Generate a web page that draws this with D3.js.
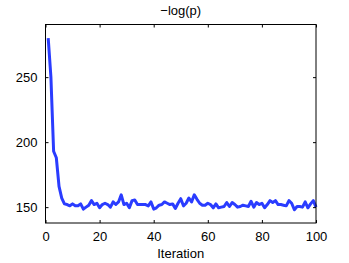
<!DOCTYPE html>
<html>
<head>
<meta charset="utf-8">
<style>
  body { margin: 0; background: #fff; }
  svg { display: block; font-family: "Liberation Sans", Arial, sans-serif; }
  .tick text { font-size: 13px; fill: #000; }
</style>
<script src="https://d3js.org/d3.v7.min.js"></script>
</head>
<body>
<script>
// values, one per iteration
var iterations = d3.range(1, 101);
var negLogP = [
  280, 250, 193, 188, 166, 157, 152.5, 152, 151, 152.5,
  151, 151, 152.5, 148.5, 150, 151.5, 155, 152, 153, 149.5,
  152, 153, 152, 150, 154, 152, 154, 159.5, 152, 153,
  149.5, 155, 155.5, 152, 152, 152, 152, 151, 154, 148.5,
  149.5, 151.5, 152, 154, 153, 152, 152.5, 149, 153, 156.5,
  151, 153, 157, 154, 159.5, 156, 153, 151.5, 151.5, 153,
  152, 149.5, 152.5, 149.5, 150, 150.5, 153.5, 150.5, 153.5, 152,
  150, 150.5, 151.5, 151, 150.5, 154.5, 150, 153.5, 152, 153,
  149.5, 152, 155, 153.5, 155, 152, 152, 151.5, 151, 155,
  153, 148, 150.5, 150.5, 150, 154, 149.5, 152.5, 155, 150
];
var xTicks = [0, 20, 40, 60, 80, 100];
var yTicks = [150, 200, 250];
var titleText = "\u2212log(p)";
var xLabelText = "Iteration";

var W = 349, H = 263;
var m = { left: 45.5, right: 33, top: 24.5, bottom: 40 };

var svg = d3.select("body").append("svg")
    .attr("width", W)
    .attr("height", H);

var x = d3.scaleLinear().domain([0, 100]).range([m.left, W - m.right]);
var y = d3.scaleLinear().domain([137.8, 290.5]).range([H - m.bottom, m.top]);

// line
var line = d3.line()
    .x((d, i) => x(iterations[i]))
    .y(d => y(d));

svg.append("path")
    .datum(negLogP)
    .attr("d", line)
    .attr("fill", "none")
    .attr("stroke", "#2a3cff")
    .attr("stroke-width", 3)
    .attr("stroke-linejoin", "round");

// axes, ticks point inward like matlab
var tl = 3;
svg.append("g")
    .attr("transform", "translate(0," + (H - m.bottom) + ")")
    .call(d3.axisBottom(x).tickValues(xTicks).tickSizeInner(-tl).tickSizeOuter(0).tickPadding(9))
    .call(g => g.select(".domain").remove());
svg.append("g")
    .attr("transform", "translate(0," + m.top + ")")
    .call(d3.axisTop(x).tickValues(xTicks).tickSizeInner(-tl).tickSizeOuter(0).tickFormat(""))
    .call(g => g.select(".domain").remove());
svg.append("g")
    .attr("transform", "translate(" + m.left + ",0)")
    .call(d3.axisLeft(y).tickValues(yTicks).tickSizeInner(-tl).tickSizeOuter(0).tickPadding(8))
    .call(g => g.select(".domain").remove());
svg.append("g")
    .attr("transform", "translate(" + (W - m.right) + ",0)")
    .call(d3.axisRight(y).tickValues(yTicks).tickSizeInner(-tl).tickSizeOuter(0).tickFormat(""))
    .call(g => g.select(".domain").remove());

svg.selectAll(".tick line").attr("stroke", "#000");

// box
svg.append("rect")
    .attr("x", m.left)
    .attr("y", m.top)
    .attr("width", W - m.right - m.left)
    .attr("height", H - m.bottom - m.top)
    .attr("fill", "none")
    .attr("stroke", "#000")
    .attr("stroke-width", 1);

var cx = (m.left + W - m.right) / 2;
svg.append("text")
    .attr("x", cx)
    .attr("y", 15)
    .attr("text-anchor", "middle")
    .style("font-size", "13px")
    .text(titleText);

svg.append("text")
    .attr("x", cx)
    .attr("y", 258)
    .attr("text-anchor", "middle")
    .style("font-size", "13px")
    .text(xLabelText);
</script>
</body>
</html>
